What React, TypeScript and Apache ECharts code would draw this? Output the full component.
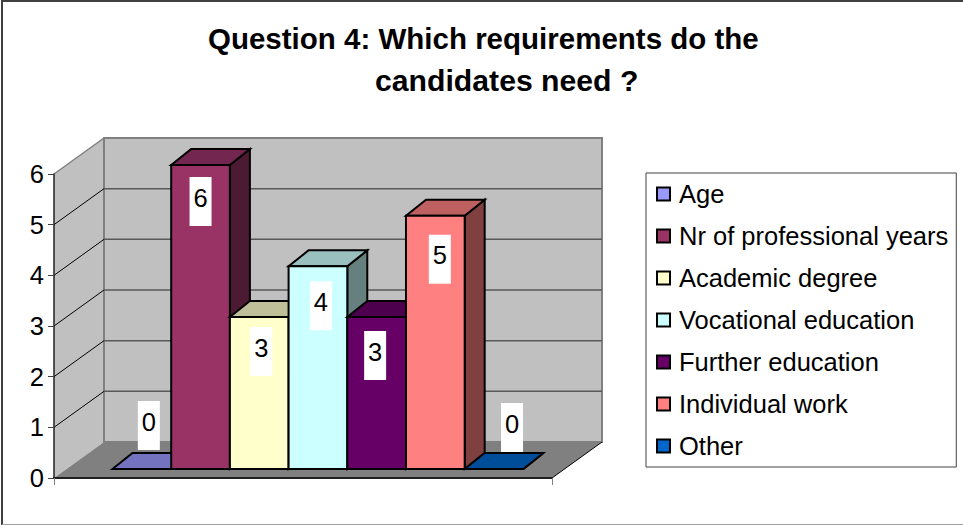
import React, { useEffect, useRef } from "react";
import * as echarts from "echarts";

const categories = ["Age", "Nr of professional years", "Academic degree", "Vocational education", "Further education", "Individual work", "Other"];
const values = [0, 6, 3, 4, 3, 5, 0];
const colors = ["#9999ff", "#993366", "#ffffcc", "#ccffff", "#660066", "#ff8080", "#0066cc"];
const topColors = ["#7373bf", "#732650", "#bfbf99", "#99bfbf", "#4d004d", "#bf6060", "#004d99"];
const sideColors = ["#4d4d80", "#4d1a33", "#808066", "#668080", "#330033", "#804040", "#003366"];
const yTicks = [0, 1, 2, 3, 4, 5, 6];
const labelDx = [7, 0, 2, 3, -1.5, 4.5, 18];
const labelDy = [-43.5, 36.5, 34.5, 39.5, 38.5, 43.5, -41.5];

const X_MIN = -0.775;
const X_MAX = 7.709;
const WALL_DX = 50;
const WALL_DY = -36;
const BAR_SHIFT_X = 13;
const BAR_SHIFT_Y = -9;
const BAR_DX = 20;
const BAR_DY = -16;
const FONT = '"Liberation Sans", Arial, sans-serif';

const renderWalls = (_: any, api: any) => {
  const [x0, y0] = api.coord([X_MIN, 0]);
  const [x1] = api.coord([X_MAX, 0]);
  const [, yT] = api.coord([X_MIN, 6]);
  const children: any[] = [
    { type: "polygon", shape: { points: [[x0, y0], [x0 + WALL_DX, y0 + WALL_DY], [x0 + WALL_DX, yT + WALL_DY], [x0, yT]] }, style: { fill: "#c0c0c0" } },
    { type: "rect", shape: { x: x0 + WALL_DX, y: yT + WALL_DY, width: x1 - x0, height: y0 - yT }, style: { fill: "#c0c0c0", stroke: "#808080", lineWidth: 2 } },
    { type: "line", shape: { x1: x0, y1: yT, x2: x0 + WALL_DX, y2: yT + WALL_DY }, style: { stroke: "#808080", lineWidth: 1.5 } },
    { type: "polygon", shape: { points: [[x0 + WALL_DX, y0 + WALL_DY], [x1 + WALL_DX, y0 + WALL_DY], [x1, y0], [x0, y0]] }, style: { fill: "#808080" } },
    { type: "line", shape: { x1: x1, y1: y0, x2: x1 + WALL_DX, y2: y0 + WALL_DY }, style: { stroke: "#000", lineWidth: 1 } },
  ];
  yTicks.slice(1, -1).forEach((t) => {
    const [, y] = api.coord([X_MIN, t]);
    children.push({ type: "line", shape: { x1: x0 + WALL_DX, y1: y + WALL_DY, x2: x1 + WALL_DX, y2: y + WALL_DY }, style: { stroke: "#595959", lineWidth: 1.5 } });
    children.push({ type: "line", shape: { x1: x0, y1: y, x2: x0 + WALL_DX, y2: y + WALL_DY }, style: { stroke: "#000", lineWidth: 1 } });
  });
  return { type: "group", children };
};

const renderBar = (params: any, api: any) => {
  const i = api.value(0);
  const v = api.value(1);
  const [xa, yBase] = api.coord([i, 0]);
  const [xb] = api.coord([i + 1, 0]);
  const [, yTop] = api.coord([i, v]);
  const l = xa + BAR_SHIFT_X;
  const r = xb + BAR_SHIFT_X;
  const b = yBase + BAR_SHIFT_Y;
  const t = yTop + BAR_SHIFT_Y;
  const stroke = { stroke: "#000", lineWidth: 2, lineJoin: "miter" };
  return {
    type: "group",
    children: [
      { type: "polygon", shape: { points: [[r, b], [r + BAR_DX, b + BAR_DY], [r + BAR_DX, t + BAR_DY], [r, t]] }, style: { fill: sideColors[i], ...stroke } },
      { type: "polygon", shape: { points: [[l, t], [l + BAR_DX, t + BAR_DY], [r + BAR_DX, t + BAR_DY], [r, t]] }, style: { fill: topColors[i], ...stroke } },
      { type: "rect", shape: { x: l, y: t, width: r - l, height: b - t }, style: { fill: colors[i], ...stroke } },
    ],
  };
};

const renderLabel = (_: any, api: any) => {
  const i = api.value(0);
  const v = api.value(1);
  const [x, y] = api.coord([i + 0.5, v]);
  const cx = x + BAR_SHIFT_X + labelDx[i];
  const cy = y + BAR_SHIFT_Y + labelDy[i];
  return {
    type: "group",
    children: [
      { type: "rect", shape: { x: cx - 11, y: cy - 24.5, width: 22, height: 49 }, style: { fill: "#fff" } },
      { type: "text", style: { x: cx, y: cy - 4, text: String(v), align: "center", verticalAlign: "middle", fill: "#000", font: `25.5px ${FONT}` } },
    ],
  };
};

export default function App() {
  const ref = useRef<HTMLDivElement>(null);
  useEffect(() => {
    document.body.style.margin = "0";
    const chart = echarts.init(ref.current!, undefined, { renderer: "svg" });
    chart.setOption({
      animation: false,
      backgroundColor: "#fff",
      title: [
        { text: "Question 4: Which requirements do the", left: 208, top: 23, padding: 0, textStyle: { fontFamily: FONT, fontWeight: "bold", fontSize: 29.5, color: "#000" } },
        { text: "candidates need ?", left: 375, top: 65, padding: 0, textStyle: { fontFamily: FONT, fontWeight: "bold", fontSize: 30.2, color: "#000" } },
      ],
      grid: { left: 54, top: 174, width: 498, height: 304, containLabel: false },
      legend: {
        orient: "vertical",
        left: 646,
        top: 173,
        padding: [8, 8, 8, 10],
        data: categories,
        icon: "rect",
        itemWidth: 13,
        itemHeight: 13,
        itemGap: 16,
        selectedMode: false,
        backgroundColor: "#fff",
        borderColor: "#404040",
        borderWidth: 1,
        itemStyle: { borderColor: "#000", borderWidth: 2 },
        textStyle: { fontFamily: FONT, fontSize: 25.5, color: "#000", padding: [0, 0, 5, 4] },
      },
      xAxis: {
        type: "value",
        min: X_MIN,
        max: X_MAX,
        z: 10,
        splitLine: { show: false },
        axisLabel: { show: false },
        axisLine: { show: true, onZero: false, lineStyle: { color: "#202020", width: 2 } },
        axisTick: { show: true, length: 7, customValues: [X_MIN, X_MAX], lineStyle: { color: "#808080", width: 1 } },
      },
      yAxis: {
        type: "value",
        min: 0,
        max: 6,
        interval: 1,
        z: 10,
        splitLine: { show: false },
        axisLine: { show: true, onZero: false, lineStyle: { color: "#202020", width: 1.5 } },
        axisTick: { show: true, length: 6, lineStyle: { color: "#404040", width: 1 } },
        axisLabel: { margin: 10, fontFamily: FONT, fontSize: 25.5, color: "#000" },
      },
      series: [
        { type: "custom", name: "walls", z: 1, silent: true, renderItem: renderWalls, data: [[0, 0]] },
        ...categories.map((name, i) => ({
          type: "custom",
          name,
          z: 2 + i,
          renderItem: renderBar,
          itemStyle: { color: colors[i] },
          data: [[i, values[i]]],
        })),
        { type: "custom", name: "labels", z: 20, renderItem: renderLabel, data: values.map((v, i) => [i, v]) },
      ],
      graphic: [
        { type: "line", z: 100, shape: { x1: 1, y1: 1, x2: 963, y2: 1 }, style: { stroke: "#404040", lineWidth: 2 } },
        { type: "line", z: 100, shape: { x1: 2, y1: 0, x2: 2, y2: 525 }, style: { stroke: "#404040", lineWidth: 2 } },
        { type: "line", z: 100, shape: { x1: 2, y1: 524.5, x2: 963, y2: 524.5 }, style: { stroke: "#a0a0a0", lineWidth: 1 } },
      ],
    });
    return () => chart.dispose();
  }, []);
  return <div ref={ref} style={{ width: 963, height: 525 }} />;
}
